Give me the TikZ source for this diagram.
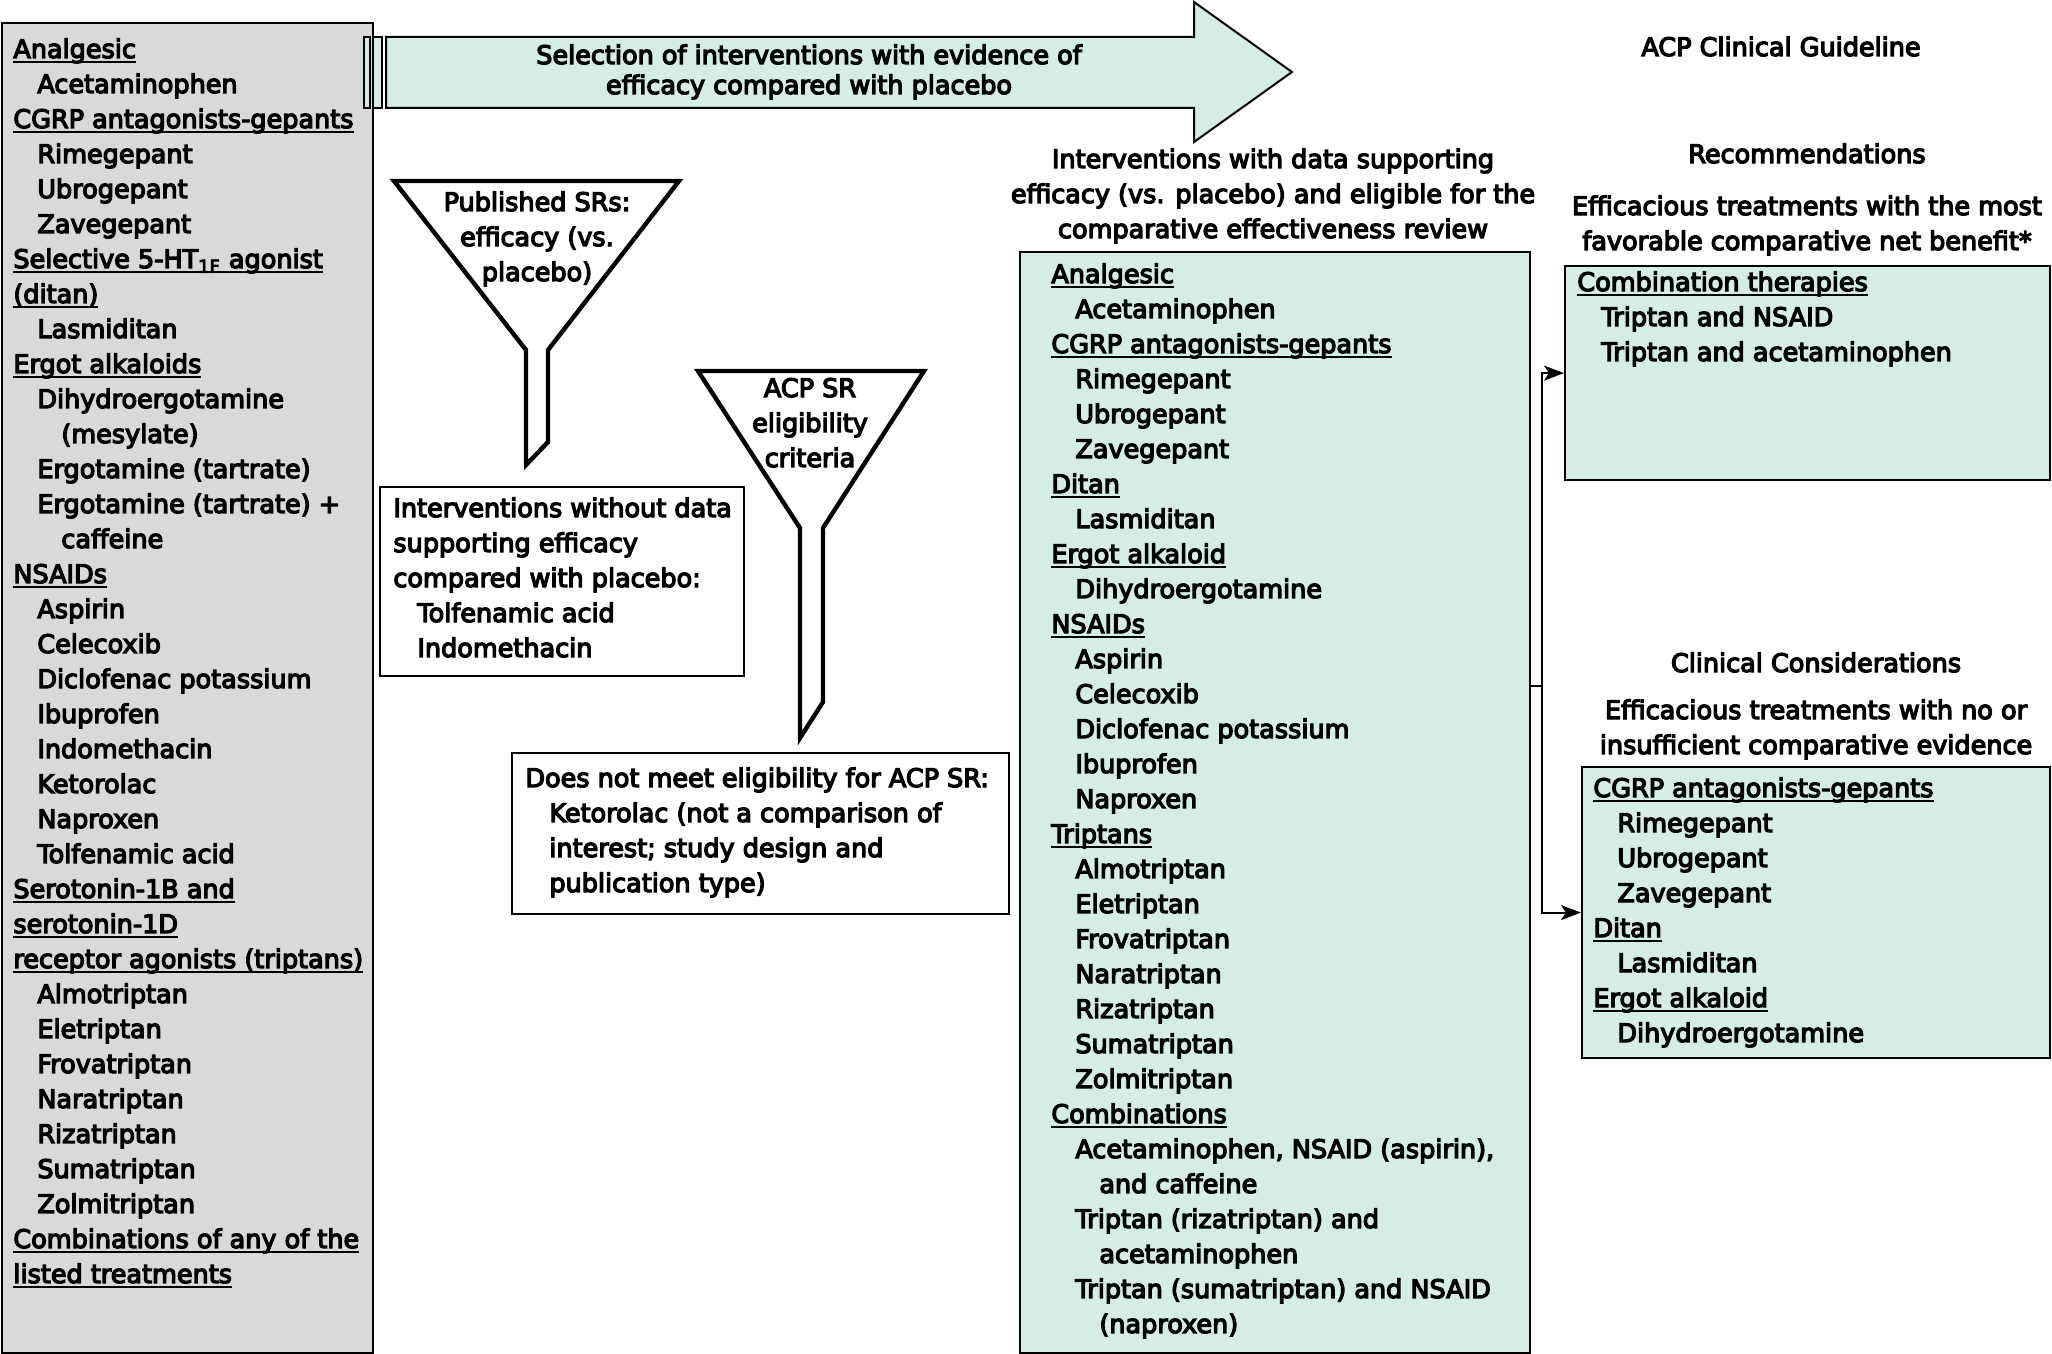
\documentclass[tikz,border=0pt]{standalone}
\usepackage{fontspec}
\setmainfont{DejaVu Sans}[FakeBold=5]
\usetikzlibrary{arrows.meta}
\definecolor{mint}{RGB}{212,238,228}
\definecolor{greybox}{RGB}{217,217,217}
\newsavebox{\hdbox}
\newcommand{\hd}[1]{\sbox{\hdbox}{#1}\rlap{\rule[-2.4pt]{\wd\hdbox}{0.9pt}}\usebox{\hdbox}}
\newcommand{\ia}{\hspace*{12pt}}
\newcommand{\ib}{\hspace*{24pt}}
\begin{document}
\begin{tikzpicture}[x=0.5pt,y=-0.5pt,
  every node/.style={font=\fontsize{12.75}{17.5}\selectfont, inner sep=0pt},
  lst/.style={anchor=base west},
  hdr/.style={anchor=base},
  box/.style={draw, line width=1.1pt, anchor=north west, inner sep=0pt},
  funnel/.style={draw, line width=2.2pt, fill=white, line join=miter},
  conn/.style={line width=0.9pt},
  tip/.style={-{Stealth[length=10pt,width=7.5pt,inset=2.5pt]}}]
\useasboundingbox (0,0) rectangle (2052,1354);

% boxes
\node[box, fill=greybox, minimum width=185.5pt, minimum height=665pt] (left) at (1,22) {};
\node[box, fill=mint, minimum width=255pt, minimum height=550.5pt] (mid) at (1019,251) {};
\node[box, fill=mint, minimum width=242.5pt, minimum height=107pt] (rec) at (1564,265) {};
\node[box, fill=mint, minimum width=234pt, minimum height=145.5pt] (cc) at (1581,766) {};
\node[box, fill=white, minimum width=182pt, minimum height=94.5pt] (without) at (379,486) {};
\node[box, fill=white, minimum width=248.5pt, minimum height=80.5pt] (notmeet) at (511,752) {};

% striped arrow
\draw[line width=1pt, fill=mint, line join=miter]
  (386,37) -- (1194,37) -- (1194,2) -- (1292,72) -- (1194,142) -- (1194,108) -- (386,108) -- cycle;
\draw[line width=0.8pt, fill=mint] (364,37) rectangle (370,108);
\draw[line width=0.8pt, fill=mint] (373,37) rectangle (382,108);
\node[hdr, font=\fontsize{12.75}{15}\selectfont] (arrowtxt) at (809,64)
  {\begin{tabular}[t]{@{}c@{}}Selection of interventions with evidence of\\ efficacy compared with placebo\end{tabular}};

% funnels
\draw[funnel] (394,181) -- (679,181) -- (548,350) -- (548,442) -- (526,465) -- (526,350) -- cycle;
\draw[funnel] (698,371) -- (924,371) -- (823,528) -- (823,702) -- (800,738) -- (800,528) -- cycle;
\node[hdr] (f1txt) at (537,211)
  {\begin{tabular}[t]{@{}c@{}}Published SRs:\\ efficacy (vs.\\ placebo)\end{tabular}};
\node[hdr] (f2txt) at (810,397)
  {\begin{tabular}[t]{@{}c@{}}ACP SR\\ eligibility\\ criteria\end{tabular}};

% headers
\node[hdr] (acp) at (1781,56) {ACP Clinical Guideline};
\node[hdr] (midhdr) at (1273,168)
  {\begin{tabular}[t]{@{}c@{}}Interventions with data supporting\\ efficacy (vs. placebo) and eligible for the\\ comparative effectiveness review\end{tabular}};
\node[hdr] (rechdr) at (1807,163) {Recommendations};
\node[hdr] (recsub) at (1807,215)
  {\begin{tabular}[t]{@{}c@{}}Efficacious treatments with the most\\ favorable comparative net benefit*\end{tabular}};
\node[hdr] (cchdr) at (1816,672) {Clinical Considerations};
\node[hdr] (ccsub) at (1816,719)
  {\begin{tabular}[t]{@{}c@{}}Efficacious treatments with no or\\ insufficient comparative evidence\end{tabular}};

% left list
\node[lst] (lefttxt) at (13,58) {\begin{tabular}[t]{@{}l@{}}
\hd{Analgesic}\\
\ia Acetaminophen\\
\hd{CGRP antagonists-gepants}\\
\ia Rimegepant\\
\ia Ubrogepant\\
\ia Zavegepant\\
\hd{Selective 5-HT\textsubscript{1F} agonist}\\
\hd{(ditan)}\\
\ia Lasmiditan\\
\hd{Ergot alkaloids}\\
\ia Dihydroergotamine\\
\ib (mesylate)\\
\ia Ergotamine (tartrate)\\
\ia Ergotamine (tartrate) +\\
\ib caffeine\\
\hd{NSAIDs}\\
\ia Aspirin\\
\ia Celecoxib\\
\ia Diclofenac potassium\\
\ia Ibuprofen\\
\ia Indomethacin\\
\ia Ketorolac\\
\ia Naproxen\\
\ia Tolfenamic acid\\
\hd{Serotonin-1B and}\\
\hd{serotonin-1D}\\
\hd{receptor agonists (triptans)}\\
\ia Almotriptan\\
\ia Eletriptan\\
\ia Frovatriptan\\
\ia Naratriptan\\
\ia Rizatriptan\\
\ia Sumatriptan\\
\ia Zolmitriptan\\
\hd{Combinations of any of the}\\
\hd{listed treatments}
\end{tabular}};

% without box text
\node[lst] (withouttxt) at (393,517) {\begin{tabular}[t]{@{}l@{}}
Interventions without data\\
supporting efficacy\\
compared with placebo:\\
\ia Tolfenamic acid\\
\ia Indomethacin
\end{tabular}};

% not meet text
\node[lst] (notmeettxt) at (525,787) {\begin{tabular}[t]{@{}l@{}}
Does not meet eligibility for ACP SR:\\
\ia Ketorolac (not a comparison of\\
\ia interest; study design and\\
\ia publication type)
\end{tabular}};

% middle list
\node[lst] (midtxt) at (1051,283) {\begin{tabular}[t]{@{}l@{}}
\hd{Analgesic}\\
\ia Acetaminophen\\
\hd{CGRP antagonists-gepants}\\
\ia Rimegepant\\
\ia Ubrogepant\\
\ia Zavegepant\\
\hd{Ditan}\\
\ia Lasmiditan\\
\hd{Ergot alkaloid}\\
\ia Dihydroergotamine\\
\hd{NSAIDs}\\
\ia Aspirin\\
\ia Celecoxib\\
\ia Diclofenac potassium\\
\ia Ibuprofen\\
\ia Naproxen\\
\hd{Triptans}\\
\ia Almotriptan\\
\ia Eletriptan\\
\ia Frovatriptan\\
\ia Naratriptan\\
\ia Rizatriptan\\
\ia Sumatriptan\\
\ia Zolmitriptan\\
\hd{Combinations}\\
\ia Acetaminophen, NSAID (aspirin),\\
\ib and caffeine\\
\ia Triptan (rizatriptan) and\\
\ib acetaminophen\\
\ia Triptan (sumatriptan) and NSAID\\
\ib (naproxen)
\end{tabular}};

% recommendations list
\node[lst] (rectxt) at (1577,291) {\begin{tabular}[t]{@{}l@{}}
\hd{Combination therapies}\\
\ia Triptan and NSAID\\
\ia Triptan and acetaminophen
\end{tabular}};

% clinical considerations list
\node[lst] (cctxt) at (1593,797) {\begin{tabular}[t]{@{}l@{}}
\hd{CGRP antagonists-gepants}\\
\ia Rimegepant\\
\ia Ubrogepant\\
\ia Zavegepant\\
\hd{Ditan}\\
\ia Lasmiditan\\
\hd{Ergot alkaloid}\\
\ia Dihydroergotamine
\end{tabular}};

% connectors
\coordinate (j) at (1542,686);
\draw[conn] (j -| mid.east) -- (j);
\draw[conn, tip] (j) |- (rec.west);
\draw[conn, tip] (j) |- (cc.west);
\end{tikzpicture}
\end{document}
